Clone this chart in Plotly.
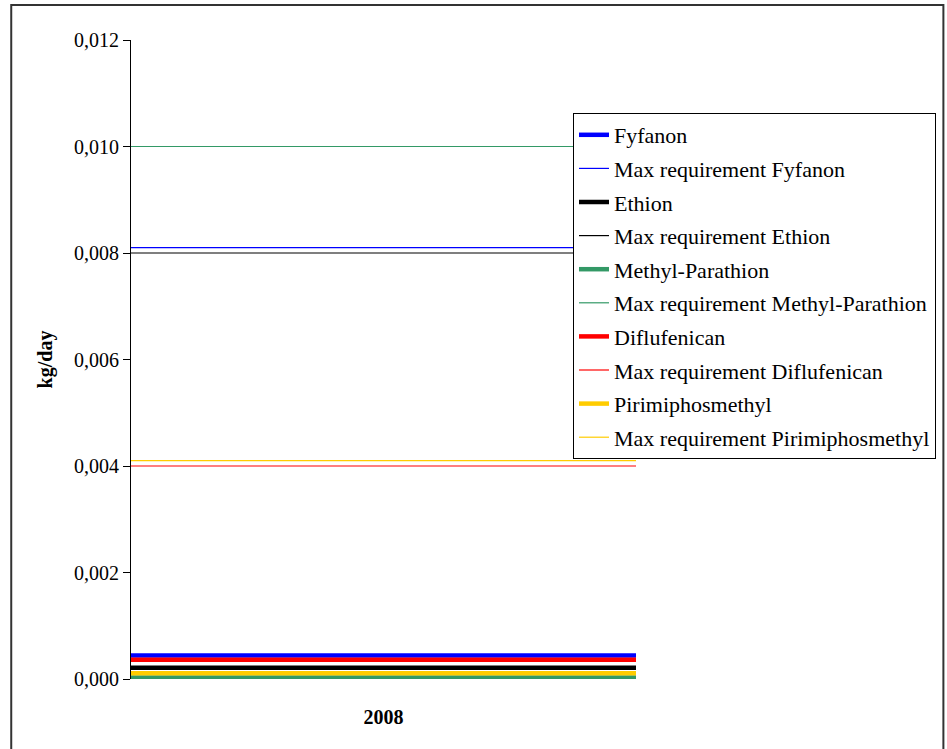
import plotly.graph_objects as go

# Monitoring period (one year, drawn edge to edge) and its tick label
period_edges = [2007.5, 2008.5]
year_ticks = [2008]
year_labels = ["2008"]

# Measured loads (kg/day) and the corresponding maximum requirements
substances = ["Fyfanon", "Ethion", "Methyl-Parathion", "Diflufenican", "Pirimiphosmethyl"]
measured = [0.00044, 0.00021, 0.00003, 0.00036, 0.00011]
max_requirement = [0.0081, 0.0080, 0.0100, 0.0040, 0.0041]
colors = ["#0000FF", "#000000", "#339966", "#FF0000", "#FFCC00"]

y_ticks = [0.000, 0.002, 0.004, 0.006, 0.008, 0.010, 0.012]

FONT = "Liberation Serif, Times New Roman, serif"

fig = go.Figure()
for i, (name, val, req, col) in enumerate(zip(substances, measured, max_requirement, colors)):
    fig.add_trace(go.Scatter(
        x=period_edges, y=[val] * len(period_edges), mode="lines",
        name=name, legendgroup=f"g{2*i}",
        line=dict(color=col, width=4.5),
    ))
    fig.add_trace(go.Scatter(
        x=period_edges, y=[req] * len(period_edges), mode="lines",
        name=f"Max requirement {name}", legendgroup=f"g{2*i+1}",
        line=dict(color=col, width=1.2),
    ))

W, H = 947, 749
L, R, T, B = 131, 310, 40, 70
pw, ph = W - L - R, H - T - B

def px_x(x):
    return (x - L) / pw

def px_y(y):
    return (H - B - y) / ph

fig.update_layout(
    width=W, height=H,
    margin=dict(l=L, r=R, t=T, b=B),
    paper_bgcolor="white", plot_bgcolor="white",
    separators=",.",
    font=dict(family=FONT, size=20, color="black"),
    showlegend=True,
    legend=dict(
        x=px_x(573), y=px_y(113), xanchor="left", yanchor="top",
        bgcolor="white", bordercolor="black", borderwidth=1,
        font=dict(family=FONT, size=22, color="black"),
        tracegroupgap=2, traceorder="grouped",
    ),
    xaxis=dict(
        range=period_edges, tickvals=year_ticks, ticktext=year_labels,
        showgrid=False, zeroline=False, showline=False,
        ticks="outside", ticklen=20, tickcolor="rgba(0,0,0,0)",
        tickfont=dict(family=FONT, size=20, color="black", weight="bold"),
    ),
    yaxis=dict(
        range=[0, 0.012], tickvals=y_ticks, tickformat=".3f",
        showgrid=False, zeroline=False, showline=True, linecolor="black",
        ticks="outside", ticklen=7, tickcolor="black",
        tickfont=dict(family=FONT, size=20, color="black"),
        title=dict(text="<b>kg/day</b>", font=dict(family=FONT, size=20), standoff=16),
    ),
    shapes=[dict(
        type="rect", xref="paper", yref="paper",
        x0=px_x(11), x1=px_x(945), y0=px_y(760), y1=px_y(5),
        line=dict(color="#333333", width=2), fillcolor="rgba(0,0,0,0)", layer="below",
    )],
)

fig.write_html("out.html")
